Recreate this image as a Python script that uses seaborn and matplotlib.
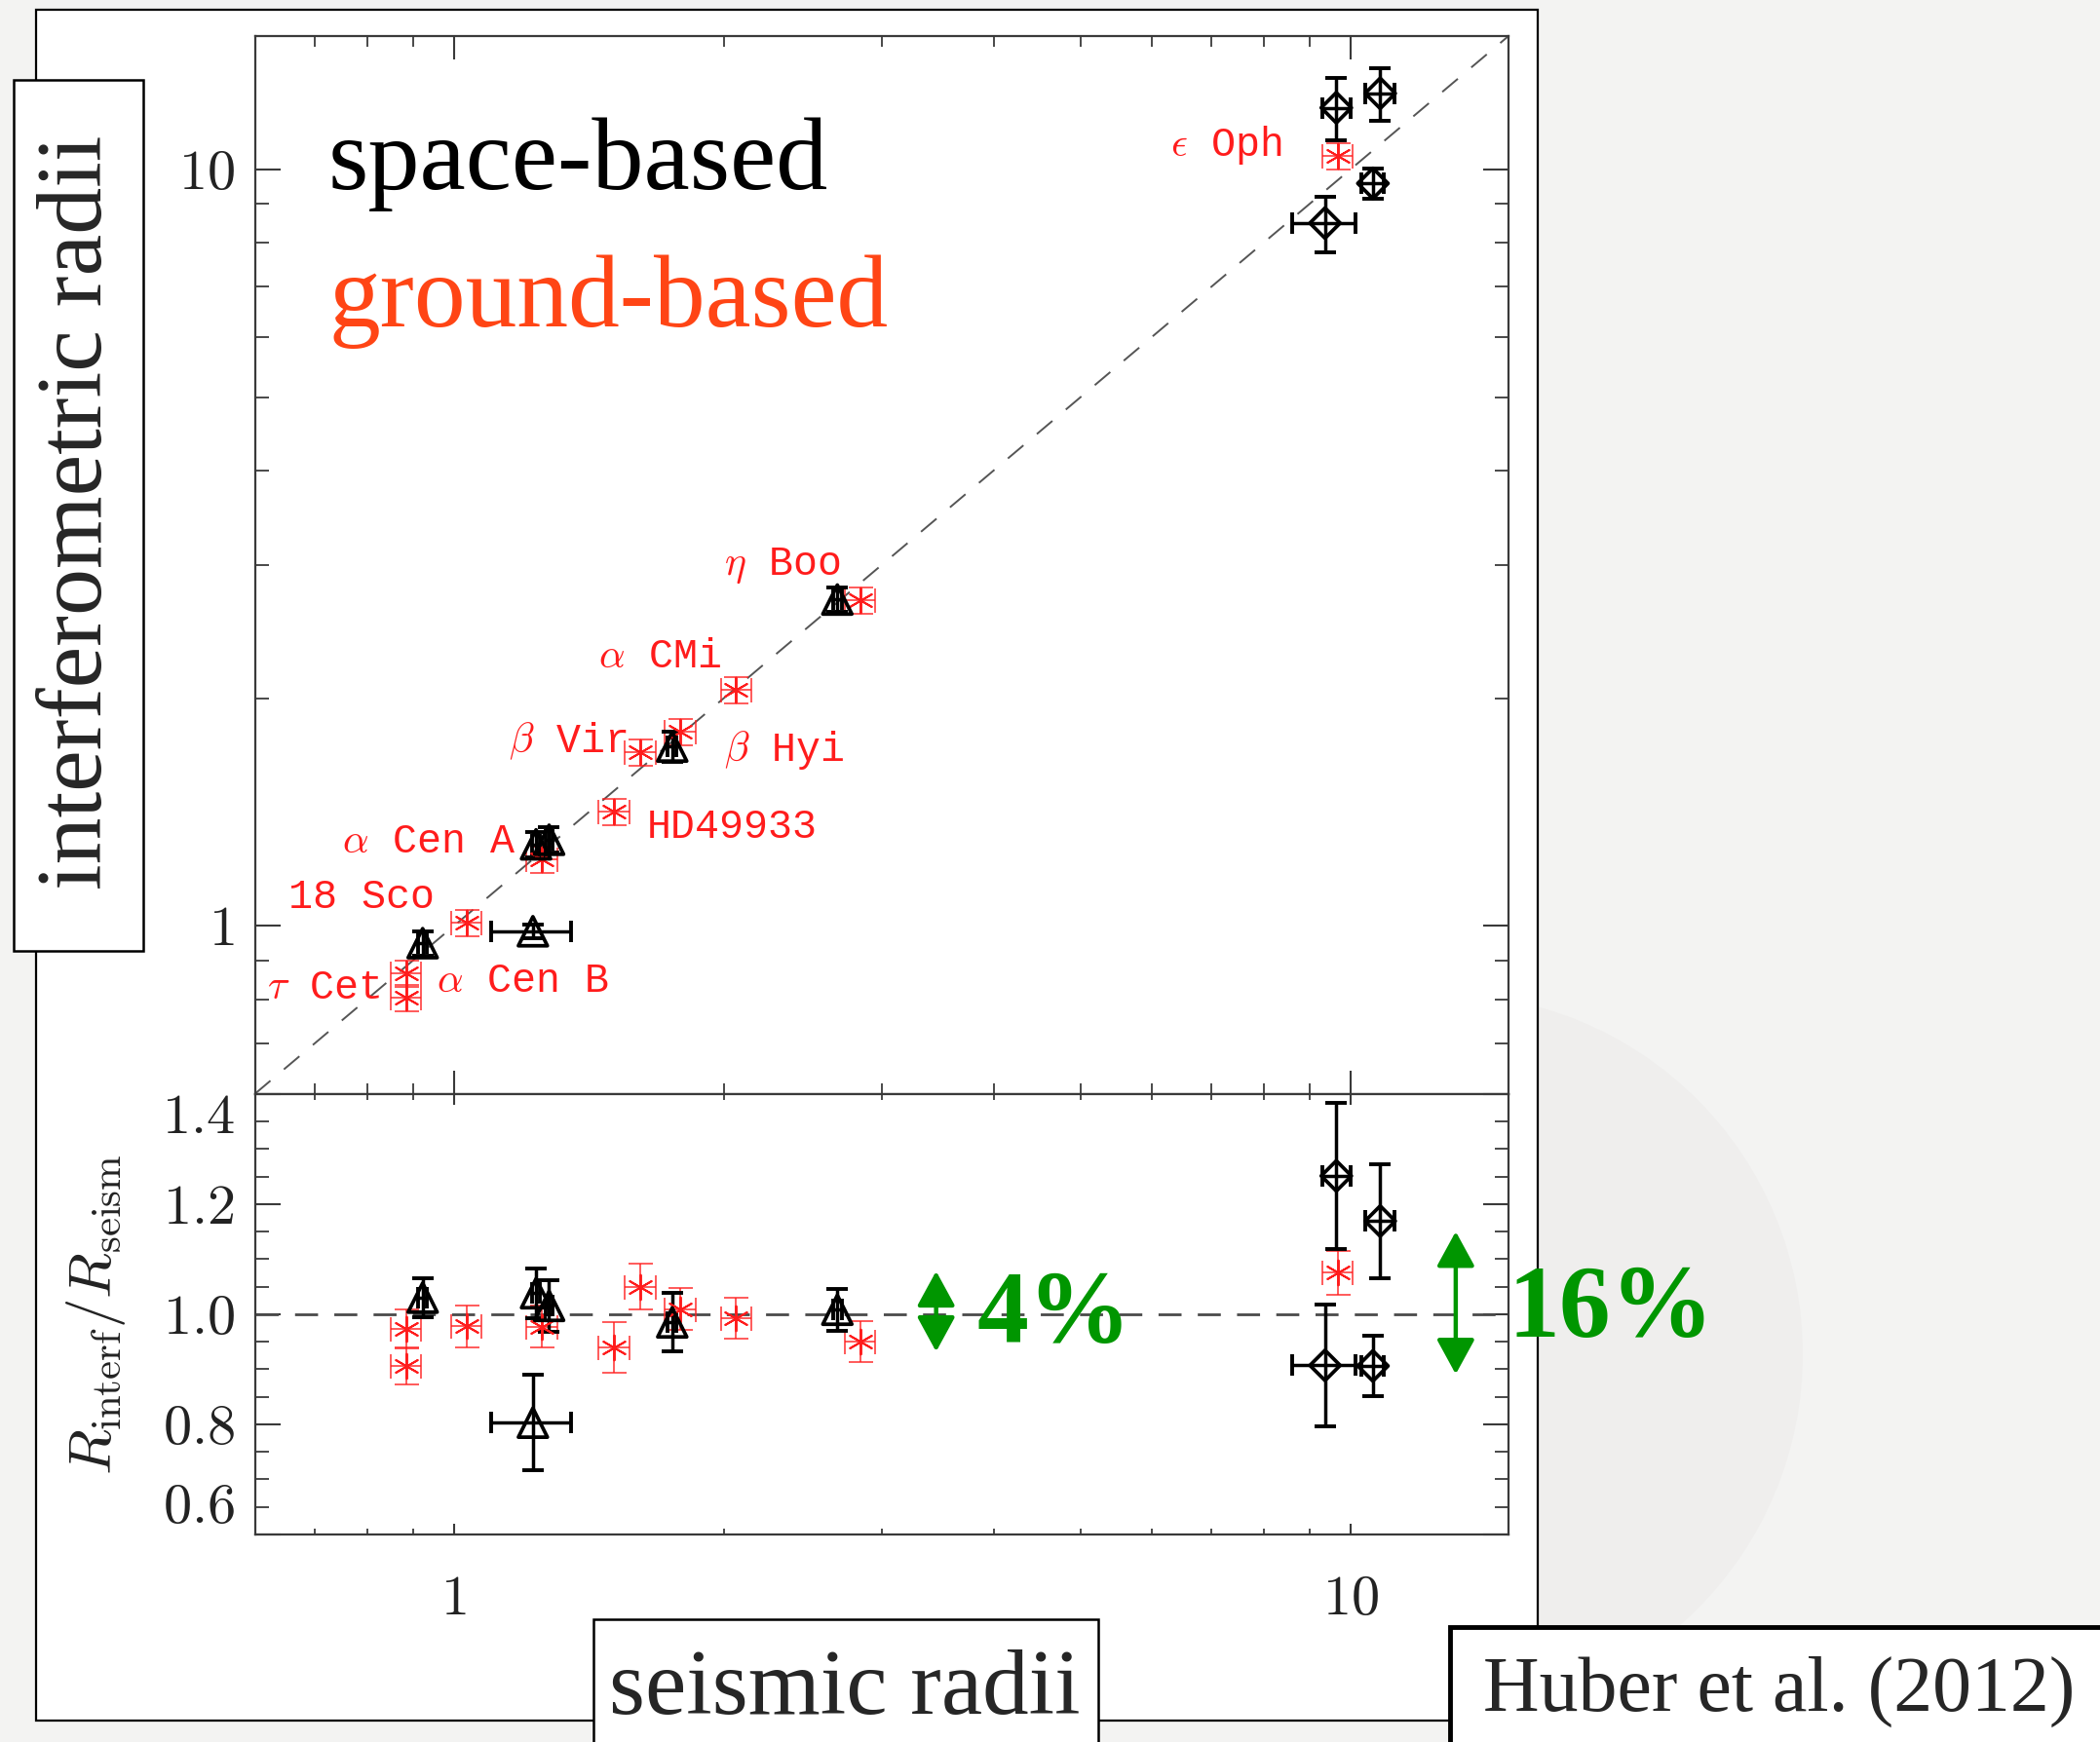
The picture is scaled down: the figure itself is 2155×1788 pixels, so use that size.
import numpy as np
import pandas as pd
import matplotlib
matplotlib.use("Agg")
import matplotlib.pyplot as plt
import seaborn as sns
from matplotlib.patches import Rectangle, FancyArrowPatch, Ellipse, ArrowStyle
from matplotlib.ticker import FixedLocator, NullFormatter

# ---------------------------------------------------------------
# Space-based (Kepler) dwarfs and subgiants  -> open triangles
dwarf_seis = [0.923, 1.235, 1.277, 1.225, 1.752, 2.677]
dwarf_seis_err = [0.010, 0.012, 0.012, 0.125, 0.020, 0.030]
dwarf_intf = [0.949, 1.282, 1.300, 0.984, 1.726, 2.700]
dwarf_intf_err = [0.036, 0.050, 0.050, 0.020, 0.078, 0.100]
dwarf_ratio = [1.030, 1.038, 1.015, 0.803, 0.985, 1.008]
dwarf_ratio_err = [0.035, 0.045, 0.047, 0.087, 0.053, 0.038]

# Space-based red giants -> open diamonds
giant_seis = [9.64, 10.79, 9.365, 10.59]
giant_seis_err = [0.35, 0.40, 0.75, 0.30]
giant_intf = [12.06, 12.60, 8.49, 9.58]
giant_intf_err = [1.15, 1.00, 0.72, 0.45]
giant_ratio = [1.251, 1.169, 0.907, 0.906]
giant_ratio_err = [0.133, 0.103, 0.111, 0.054]

# Ground-based targets -> red asterisks
ground_names = [r"$\alpha$ Cen B", r"$\tau$ Cet", "18 Sco", r"$\alpha$ Cen A",
                "HD49933", r"$\beta$ Vir", r"$\beta$ Hyi", r"$\alpha$ CMi",
                r"$\eta$ Boo", r"$\epsilon$ Oph"]
ground_seis = [0.885, 0.885, 1.033, 1.253, 1.508, 1.615, 1.789, 2.064, 2.838, 9.68]
ground_seis_err = [0.035, 0.035, 0.040, 0.050, 0.060, 0.065, 0.070, 0.080, 0.110, 0.38]
ground_intf = [0.865, 0.803, 1.010, 1.224, 1.416, 1.696, 1.805, 2.050, 2.696, 10.41]
ground_intf_err = [0.035, 0.032, 0.040, 0.050, 0.057, 0.068, 0.072, 0.082, 0.108, 0.42]
ground_ratio = [0.9735, 0.906, 0.978, 0.977, 0.939, 1.050, 1.009, 0.993, 0.950, 1.075]
ground_ratio_err = [0.035, 0.034, 0.038, 0.038, 0.046, 0.041, 0.038, 0.037, 0.037, 0.040]

# where each star name is written (left edge, vertical centre)
name_x = [0.956, 0.619, 0.654, 0.751, 1.643, 1.151, 2.00, 1.45, 2.00, 6.30]
name_y = [0.847, 0.827, 1.090, 1.294, 1.349, 1.756, 1.705, 2.273, 2.994, 10.77]

# scatter annotations in the ratio panel
spread_labels = ["4%", "16%"]
spread_arrow_x = [3.45, 13.10]
spread_arrow_lo = [0.932, 0.891]
spread_arrow_hi = [1.078, 1.150]
spread_text_x = [3.833, 14.98]
spread_text_y = [0.9476, 0.9587]

radius_lim = (0.6, 15.0)
radius_ticks = [1, 10]
radius_minor = [0.6, 0.7, 0.8, 0.9, 2, 3, 4, 5, 6, 7, 8, 9]
ratio_lim = (0.6, 1.4)
ratio_ticks = [0.6, 0.8, 1.0, 1.2, 1.4]
ratio_minor = list(np.arange(0.6, 1.4001, 0.05))

# ---------------------------------------------------------------
sns.set_theme(style="ticks")
plt.rcParams["mathtext.fontset"] = "cm"
plt.rcParams["font.family"] = ["Liberation Serif", "DejaVu Serif"]
plt.rcParams["lines.scale_dashes"] = False

W, H = 2155, 1788
fig = plt.figure(figsize=(W / 100, H / 100), dpi=100)
fig.patch.set_facecolor("#f3f3f2")

def fx(px):
    return px / W

def fy(py):
    return 1 - py / H

BLACK = "#000000"
RED = "#ff1c1c"
GREEN = "#009600"
ORANGE = "#ff4515"
AX_COL = "#3a3a3a"

# faint solar disc in the slide background
fig.add_artist(Ellipse((fx(1480), fy(1390)), 2 * 370 / W, 2 * 370 / H,
                       transform=fig.transFigure, fc="#efeeed", ec="none", zorder=-10))
# white slide panel
fig.add_artist(Rectangle((fx(37), fy(1766)), (1578 - 37) / W, (1766 - 10) / H,
                         transform=fig.transFigure, fc="white", ec="black",
                         lw=1.6, zorder=-5))

left, right = 261.6, 1548.0
top_t, mid, bot_b = 37.0, 1122.7, 1575.0
ax_top = fig.add_axes([fx(left), fy(mid), (right - left) / W, (mid - top_t) / H])
ax_bot = fig.add_axes([fx(left), fy(bot_b), (right - left) / W, (bot_b - mid) / H])

for ax in (ax_top, ax_bot):
    ax.set_facecolor("white")
    ax.set_xscale("log")
    ax.set_xlim(*radius_lim)
    for s in ax.spines.values():
        s.set_color(AX_COL)
        s.set_linewidth(1.6)
    ax.xaxis.set_major_locator(FixedLocator(radius_ticks))
    ax.xaxis.set_minor_locator(FixedLocator(radius_minor))
    ax.xaxis.set_minor_formatter(NullFormatter())
    ax.grid(False)

# ---------------- top panel: radius vs radius -------------------
ax_top.set_yscale("log")
ax_top.set_ylim(*radius_lim)
ax_top.yaxis.set_major_locator(FixedLocator(radius_ticks))
ax_top.yaxis.set_minor_locator(FixedLocator(radius_minor))
ax_top.yaxis.set_minor_formatter(NullFormatter())
ax_top.set_yticklabels(["$1$", "$10$"])
ax_top.tick_params(axis="both", which="major", direction="in", length=17, width=1.5,
                   color=AX_COL, top=True, right=True, labelbottom=False,
                   labelsize=42, pad=15, labelcolor="#222222")
ax_top.tick_params(axis="y", which="major", length=19)
ax_top.tick_params(axis="both", which="minor", direction="in", length=8, width=1.3,
                   color=AX_COL, top=True, right=True)
ax_top.tick_params(axis="y", which="minor", length=10)

ax_top.axline((1, 1), (10, 10), color="#555555", lw=1.4, dashes=(15, 13), zorder=1)

ax_top.errorbar(ground_seis, ground_intf, xerr=ground_seis_err, yerr=ground_intf_err,
                fmt="none", ecolor=RED, elinewidth=1.2, capsize=9, capthick=1.2,
                alpha=0.85, zorder=2)
ax_top.errorbar(dwarf_seis, dwarf_intf, xerr=dwarf_seis_err, yerr=dwarf_intf_err,
                fmt="none", ecolor=BLACK, elinewidth=2.5, capsize=8, capthick=2.8, zorder=3)
ax_top.errorbar(giant_seis, giant_intf, xerr=giant_seis_err, yerr=giant_intf_err,
                fmt="none", ecolor=BLACK, elinewidth=2.5, capsize=8, capthick=2.8, zorder=3)

sns.scatterplot(x=ground_seis, y=ground_intf, marker=(6, 2, 0), s=340, color=RED,
                linewidth=1.4, ax=ax_top, zorder=4, legend=False)
sns.scatterplot(x=dwarf_seis, y=dwarf_intf, marker="^", s=460, facecolors="none",
                edgecolor=BLACK, linewidth=2.7, ax=ax_top, zorder=5, legend=False)
sns.scatterplot(x=giant_seis, y=giant_intf, marker="D", s=250, facecolors="none",
                edgecolor=BLACK, linewidth=2.7, ax=ax_top, zorder=5, legend=False)

for name, tx, ty in zip(ground_names, name_x, name_y):
    ax_top.text(tx, ty, name, color=RED, fontsize=30, ha="left", va="center",
                family=["Liberation Mono", "DejaVu Sans Mono"], zorder=6)

# ---------------- bottom panel: ratio ---------------------------
ax_bot.set_ylim(*ratio_lim)
ax_bot.yaxis.set_major_locator(FixedLocator(ratio_ticks))
ax_bot.yaxis.set_minor_locator(FixedLocator(ratio_minor))
ax_bot.yaxis.set_minor_formatter(NullFormatter())
ax_bot.tick_params(axis="both", which="major", direction="in", length=8, width=1.5,
                   color=AX_COL, top=True, right=True, labelsize=42, pad=15,
                   labelcolor="#222222")
ax_bot.tick_params(axis="x", which="major", pad=30)
ax_bot.tick_params(axis="y", which="major", length=19)
ax_bot.tick_params(axis="both", which="minor", direction="in", length=4, width=1.3,
                   color=AX_COL, top=True, right=True)
ax_bot.tick_params(axis="y", which="minor", length=10)
ax_bot.set_xticklabels(["$1$", "$10$"])
ax_bot.set_yticklabels([f"${t:.1f}$" for t in ratio_ticks])
ylabs = ax_bot.get_yticklabels()
ylabs[0].set_va("bottom")
ylabs[-1].set_va("top")

ax_bot.axhline(1.0, color="#4a4a4a", lw=2.0, dashes=(17, 12), zorder=1)

ax_bot.errorbar(ground_seis, ground_ratio, xerr=ground_seis_err, yerr=ground_ratio_err,
                fmt="none", ecolor=RED, elinewidth=1.2, capsize=9, capthick=1.2,
                alpha=0.85, zorder=2)
ax_bot.errorbar(dwarf_seis, dwarf_ratio, xerr=dwarf_seis_err, yerr=dwarf_ratio_err,
                fmt="none", ecolor=BLACK, elinewidth=2.5, capsize=8, capthick=2.8, zorder=3)
ax_bot.errorbar(giant_seis, giant_ratio, xerr=giant_seis_err, yerr=giant_ratio_err,
                fmt="none", ecolor=BLACK, elinewidth=2.5, capsize=8, capthick=2.8, zorder=3)

sns.scatterplot(x=ground_seis, y=ground_ratio, marker=(6, 2, 0), s=340, color=RED,
                linewidth=1.4, ax=ax_bot, zorder=4, legend=False)
sns.scatterplot(x=dwarf_seis, y=dwarf_ratio, marker="^", s=460, facecolors="none",
                edgecolor=BLACK, linewidth=2.7, ax=ax_bot, zorder=5, legend=False)
sns.scatterplot(x=giant_seis, y=giant_ratio, marker="D", s=250, facecolors="none",
                edgecolor=BLACK, linewidth=2.7, ax=ax_bot, zorder=5, legend=False)

ax_bot.set_ylabel(r"$R_{\rm interf}/R_{\rm seism}$", fontsize=44, color="#222222")
ax_bot.yaxis.set_label_coords((131 - left) / (right - left), 0.5)
ax_bot.set_xlabel("")

for lab, xa, lo, hi, txx, tyy in zip(spread_labels, spread_arrow_x, spread_arrow_lo,
                                     spread_arrow_hi, spread_text_x, spread_text_y):
    arr = FancyArrowPatch((xa, lo), (xa, hi),
                          arrowstyle=ArrowStyle("<|-|>", head_length=22, head_width=12),
                          mutation_scale=1, lw=3.2, color=GREEN, shrinkA=0, shrinkB=0,
                          transform=ax_bot.transData, clip_on=False, zorder=7)
    ax_bot.add_artist(arr)
    ax_bot.text(txx, tyy, lab, color=GREEN, fontsize=76, fontweight="bold",
                family="Liberation Serif", ha="left", va="baseline",
                clip_on=False, zorder=8)

# ---------------- slide texts and label boxes -------------------
fig.text(fx(337), fy(194), "space-based", fontsize=76.5, color=BLACK,
         family="Liberation Serif", ha="left", va="baseline")
fig.text(fx(337), fy(335), "ground-based", fontsize=76, color=ORANGE,
         family="Liberation Serif", ha="left", va="baseline")

fig.add_artist(Rectangle((fx(14), fy(976)), 133 / W, (976 - 82) / H,
                         transform=fig.transFigure, fc="white", ec="black", lw=1.8, zorder=2))
fig.text(fx(80.5), fy(526), "interferometric radii", rotation=90, fontsize=69,
         family="Liberation Serif", ha="center", va="center", zorder=3)

fig.add_artist(Rectangle((fx(609), fy(1800)), (1127 - 609) / W, (1800 - 1662) / H,
                         transform=fig.transFigure, fc="white", ec="black", lw=1.8, zorder=2))
fig.text(fx(867), fy(1759), "seismic radii", fontsize=68.5,
         family="Liberation Serif", ha="center", va="baseline", zorder=3)

fig.add_artist(Rectangle((fx(1488), fy(1800)), 700 / W, (1800 - 1670) / H,
                         transform=fig.transFigure, fc="white", ec="black", lw=3.5, zorder=2))
fig.text(fx(1826), fy(1756), "Huber et al. (2012)", fontsize=57.5,
         family="Liberation Serif", ha="center", va="baseline", zorder=3)

fig.savefig("out.png", dpi=100, facecolor=fig.get_facecolor())
